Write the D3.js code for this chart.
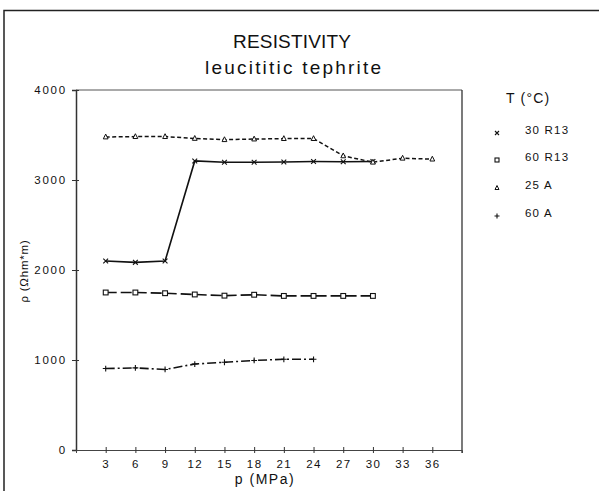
<!DOCTYPE html>
<html>
<head>
<meta charset="utf-8">
<script src="https://cdn.jsdelivr.net/npm/d3@7"></script>
<style>
  html, body { margin: 0; padding: 0; background: #fff; }
  svg { display: block; }
  text { font-family: "Liberation Sans", Arial, sans-serif; fill: #111; }
</style>
</head>
<body>
<svg id="chart" width="599" height="491"></svg>
<script>
// Pressure steps (MPa) and resistivity (Ohm*m) for each sample / temperature
const pressure = [3, 6, 9, 12, 15, 18, 21, 24, 27, 30, 33, 36];
const r13_30 = [2100, 2085, 2100, 3212, 3198, 3198, 3200, 3205, 3203, 3205];
const r13_60 = [1750, 1750, 1742, 1728, 1715, 1725, 1712, 1712, 1712, 1712];
const a_25   = [3478, 3482, 3482, 3462, 3448, 3455, 3460, 3460, 3268, 3198, 3242, 3232];
const a_60   = [905, 912, 895, 955, 975, 995, 1008, 1008];
const seriesNames = ["30  R13", "60  R13", "25  A", "60  A"];
const yTicks = [0, 1000, 2000, 3000, 4000];
const xTicks = [3, 6, 9, 12, 15, 18, 21, 24, 27, 30, 33, 36];

const svg = d3.select("#chart");
const plotL = 76, plotR = 462, plotT = 90, plotB = 450;

const x = d3.scaleLinear().domain([0, 39]).range([plotL, plotR]);
const y = d3.scaleLinear().domain([0, 4000]).range([plotB, plotT]);

// outer sheet border (left and top edges)
svg.append("path").attr("d", `M4,491 V10.5 H599`)
  .attr("fill", "none").attr("stroke", "#222").attr("stroke-width", 1.5);

// titles
svg.append("text").attr("x", 292).attr("y", 48).attr("text-anchor", "middle")
  .attr("font-size", 19).attr("textLength", 118).attr("lengthAdjust", "spacing")
  .attr("fill", "#222").text("RESISTIVITY");
svg.append("text").attr("x", 293).attr("y", 74).attr("text-anchor", "middle")
  .attr("font-size", 19).attr("textLength", 176).attr("lengthAdjust", "spacing")
  .attr("fill", "#222").text("leucititic tephrite");

// plot frame: top and right edges
svg.append("line").attr("x1", plotL).attr("x2", plotR).attr("y1", plotT).attr("y2", plotT)
  .attr("stroke", "#555").attr("stroke-width", 1);
svg.append("line").attr("x1", plotR).attr("x2", plotR).attr("y1", plotT).attr("y2", plotB + 3)
  .attr("stroke", "#333").attr("stroke-width", 1.3);

// y axis
const yAxis = d3.axisLeft(y).tickValues(yTicks).tickSize(4).tickPadding(5)
  .tickFormat(d3.format("d"));
const gy = svg.append("g").attr("transform", `translate(${plotL},0)`).call(yAxis);
gy.select(".domain").attr("stroke", "#333").attr("stroke-width", 1.5);
gy.selectAll(".tick line").attr("stroke", "#333").attr("x2", 3).attr("x1", -4);
gy.selectAll(".tick text").attr("font-size", 11.5).attr("letter-spacing", 1.8)
  .attr("font-family", "'Liberation Sans', Arial, sans-serif").attr("fill", "#111");

// x axis
const xAxis = d3.axisBottom(x).tickValues(xTicks).tickSize(3).tickPadding(7);
const gx = svg.append("g").attr("transform", `translate(0,${plotB})`).call(xAxis);
gx.select(".domain").attr("stroke", "#444").attr("stroke-width", 1);
gx.selectAll(".tick line").attr("stroke", "#333").attr("y1", -3).attr("y2", 3);
gx.selectAll(".tick text").attr("font-size", 11.5).attr("letter-spacing", 1.4)
  .attr("font-family", "'Liberation Sans', Arial, sans-serif").attr("fill", "#111");

// axis titles
svg.append("text").attr("x", 265).attr("y", 484).attr("text-anchor", "middle")
  .attr("font-size", 14).attr("letter-spacing", 1.5).text("p (MPa)");
svg.append("text").attr("transform", "translate(28,271) rotate(-90)")
  .attr("text-anchor", "middle").attr("font-size", 11.5).attr("letter-spacing", 0.8)
  .text("ρ (Ωhm*m)");

// marker shapes
function marker(g, kind, cx, cy, s) {
  if (kind === "x") {
    g.append("path").attr("d", `M${cx-s},${cy-s}L${cx+s},${cy+s}M${cx-s},${cy+s}L${cx+s},${cy-s}`)
      .attr("stroke", "#111").attr("stroke-width", 1.1).attr("fill", "none");
  } else if (kind === "square") {
    g.append("rect").attr("x", cx - s).attr("y", cy - s).attr("width", 2 * s).attr("height", 2 * s)
      .attr("stroke", "#111").attr("stroke-width", 1.1).attr("fill", "#fff");
  } else if (kind === "triangle") {
    g.append("path").attr("d", `M${cx},${cy-s-0.5}L${cx+s},${cy+s-0.5}L${cx-s},${cy+s-0.5}Z`)
      .attr("stroke", "#111").attr("stroke-width", 1).attr("fill", "#fff");
  } else {
    g.append("path").attr("d", `M${cx-s-0.5},${cy}H${cx+s+0.5}M${cx},${cy-s-0.5}V${cy+s+0.5}`)
      .attr("stroke", "#111").attr("stroke-width", 1.1).attr("fill", "none");
  }
}

const series = [
  { values: r13_30, kind: "x", dash: null, width: 1.6 },
  { values: r13_60, kind: "square", dash: "11,4", width: 1.6 },
  { values: a_25, kind: "triangle", dash: "4,2.5", width: 1.5 },
  { values: a_60, kind: "plus", dash: "9,3,2,3", width: 1.6 }
];

const line = d3.line().x(d => x(d[0])).y(d => y(d[1]));

series.forEach(s => {
  const pts = s.values.map((v, i) => [pressure[i], v]);
  const g = svg.append("g");
  g.append("path").datum(pts).attr("d", line)
    .attr("fill", "none").attr("stroke", "#111").attr("stroke-width", s.width)
    .attr("stroke-dasharray", s.dash);
  pts.forEach(p => marker(g, s.kind, x(p[0]), y(p[1]), 2.4));
});

// legend
const lg = svg.append("g");
lg.append("text").attr("x", 506).attr("y", 103).attr("font-size", 14)
  .attr("letter-spacing", 1.2).text("T (°C)");
const rowsY = [133, 160, 188, 216];
series.forEach((s, i) => {
  marker(lg, s.kind, 497, rowsY[i], 2);
  lg.append("text").attr("x", 525).attr("y", rowsY[i] + 1).attr("font-size", 11.5)
    .attr("letter-spacing", 1.2).text(seriesNames[i]);
});
</script>
</body>
</html>
